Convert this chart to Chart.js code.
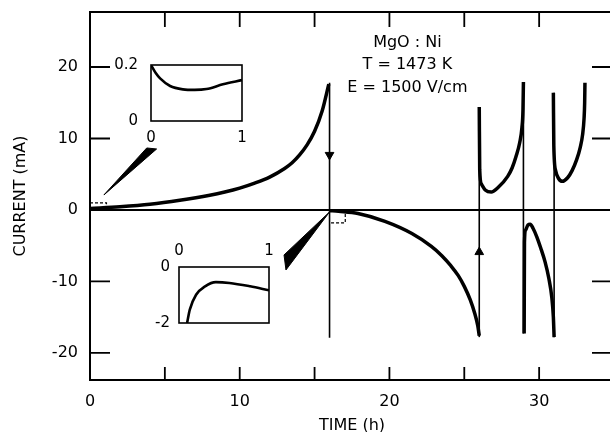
<!DOCTYPE html>
<html>
<head>
<meta charset="utf-8">
<script src="https://cdn.jsdelivr.net/npm/chart.js@4.4.0/dist/chart.umd.min.js"></script>
<style>
    html, body { margin: 0; padding: 0; background: #fff; overflow: hidden; width: 610px; height: 432px; }
    #wrap { position: relative; width: 620px; height: 432px; }
    #wrap canvas { position: absolute; }
</style>
</head>
<body>
<div id="wrap">
    <canvas id="main" width="620" height="432" style="left:0;top:0"></canvas>
    <canvas id="inset1" width="160" height="100" style="left:100px;top:50px"></canvas>
    <canvas id="inset2" width="160" height="100" style="left:130px;top:235px"></canvas>
</div>
<script>
// Current under field reversal, MgO:Ni, T = 1473 K, E = 1500 V/cm
const growthT = [0, 2, 4, 6, 8, 9, 10, 11, 12, 13, 13.5, 14, 14.5, 15, 15.5, 15.95];
const growthI = [0.2, 0.45, 0.8, 1.35, 2.05, 2.5, 3.05, 3.75, 4.6, 5.8, 6.6, 7.7, 9.1, 11.0, 13.8, 17.6];

const decayT = [16.0, 16.6, 17.9, 19.7, 21.5, 22.8, 23.5, 24.1, 24.6, 25.0, 25.4, 25.7, 25.9, 26.0];
const decayI = [-0.1, -0.2, -0.5, -1.6, -3.3, -5.1, -6.4, -7.8, -9.2, -10.7, -12.6, -14.5, -16.2, -17.6];

const u1T = [26.0, 26.03, 26.15, 26.4, 26.8, 27.24, 27.9, 28.2, 28.46, 28.7, 28.85, 28.92, 28.95];
const u1I = [14.4, 5.6, 3.6, 2.8, 2.5, 3.1, 4.7, 5.9, 7.5, 9.4, 11.5, 14.0, 17.9];

const neg2T = [29.0, 29.02, 29.1, 29.25, 29.4, 29.6, 29.85, 30.1, 30.4, 30.65, 30.85, 30.95, 31.0];
const neg2I = [-17.3, -4.5, -2.8, -2.1, -2.0, -2.6, -3.8, -5.3, -7.3, -9.6, -12.3, -15.0, -17.8];

const u2T = [30.95, 30.98, 31.1, 31.3, 31.55, 31.9, 32.2, 32.5, 32.75, 32.9, 33.0, 33.04, 33.06];
const u2I = [16.4, 9.0, 5.5, 4.4, 4.0, 4.5, 5.5, 7.0, 8.8, 10.5, 12.8, 15.0, 17.8];

// polarity switches (thin vertical jumps)
const switchT = [16, 26, 28.95, 31];
const switchFrom = [17.8, -17.8, 17.9, -17.8];
const switchTo = [-17.9, 14.4, -17.3, 16.4];

// arrow heads on the jumps
const arrowT = [16, 26];
const arrowI = [7.7, -5.9];
const arrowRot = [180, 0];

// zoomed regions and the pointers to the insets
const box1T = [0, 1.1, 1.1];
const box1I = [1.0, 1.0, 0.1];
const box2T = [16.1, 17.05, 17.05];
const box2I = [-1.8, -1.8, -0.2];
const wedge1T = [0.93, 3.79, 4.45, 0.93];
const wedge1I = [2.1, 8.67, 8.53, 2.1];
const wedge2T = [12.96, 13.09, 16.0, 12.96];
const wedge2I = [-6.3, -8.4, -0.28, -6.3];

// insets: first hour after switching
const inset1T = [0, 0.05, 0.1, 0.21, 0.35, 0.48, 0.61, 0.79, 1.0];
const inset1I = [0.2, 0.172, 0.152, 0.125, 0.113, 0.111, 0.114, 0.131, 0.146];
const inset2T = [0.09, 0.12, 0.19, 0.29, 0.41, 0.56, 0.79, 1.0];
const inset2I = [-2, -1.52, -0.99, -0.69, -0.54, -0.57, -0.69, -0.83];

const xTicks = [0, 10, 20, 30];
const noteLines = ['MgO : Ni', 'T = 1473 K', 'E = 1500 V/cm'];

const toPts = (xs, ys) => xs.map((x, i) => ({ x: x, y: ys[i] }));

Chart.defaults.font.family = 'DejaVu Sans';
Chart.defaults.color = '#000';
Chart.defaults.animation = false;
Chart.defaults.events = [];
Chart.defaults.plugins.legend.display = false;
Chart.defaults.plugins.tooltip.enabled = false;

function curve(xs, ys, w) {
    return {
        data: toPts(xs, ys), showLine: true, borderColor: '#000', borderWidth: w,
        pointRadius: 0, cubicInterpolationMode: 'monotone', fill: false
    };
}

// stop chart.js from reserving room for end labels
function noPad(s) {
    s.paddingTop = 0; s.paddingBottom = 0; s.paddingLeft = 0; s.paddingRight = 0;
}

const datasets = [
    { data: [{ x: 0, y: 0 }, { x: 35, y: 0 }], showLine: true, borderColor: '#000', borderWidth: 2, pointRadius: 0 },
    curve(growthT, growthI, 3.5),
    curve(decayT, decayI, 3.5),
    curve(u1T, u1I, 3.5),
    curve(neg2T, neg2I, 3.5),
    curve(u2T, u2I, 3.5)
];
switchT.forEach((t, i) => {
    datasets.push({
        data: [{ x: t, y: switchFrom[i] }, { x: t, y: switchTo[i] }],
        showLine: true, borderColor: '#000', borderWidth: 1.6, pointRadius: 0
    });
});
datasets.push({
    data: toPts(arrowT, arrowI), showLine: false, pointStyle: 'triangle',
    rotation: arrowRot, pointRadius: 5, backgroundColor: '#000', borderColor: '#000', borderWidth: 1
});
[[box1T, box1I], [box2T, box2I]].forEach(b => {
    datasets.push({
        data: toPts(b[0], b[1]), showLine: true, borderColor: '#000', borderWidth: 1.2,
        borderDash: [3, 2], pointRadius: 0
    });
});
[[wedge1T, wedge1I], [wedge2T, wedge2I]].forEach(w => {
    datasets.push({
        data: toPts(w[0], w[1]), showLine: true, borderColor: '#000', borderWidth: 1,
        backgroundColor: '#000', fill: 'shape', pointRadius: 0
    });
});

// frame with inward ticks on all four sides, plus the sample note
const frameTicks = {
    id: 'frameTicks',
    afterDraw(chart, args, opts) {
        const ctx = chart.ctx;
        const a = chart.chartArea;
        const xs = chart.scales.x, ys = chart.scales.y;
        ctx.save();
        ctx.strokeStyle = '#000';
        ctx.lineWidth = opts.frameWidth;
        ctx.strokeRect(a.left, a.top, a.right - a.left, a.bottom - a.top);
        ctx.lineWidth = opts.tickWidth;
        ctx.beginPath();
        if (opts.xIn) {
            xs.ticks.forEach(t => {
                if (t.value <= xs.min || t.value >= xs.max) return;
                const px = xs.getPixelForValue(t.value);
                ctx.moveTo(px, a.top); ctx.lineTo(px, a.top + opts.xIn[0]);
                ctx.moveTo(px, a.bottom); ctx.lineTo(px, a.bottom - opts.xIn[1]);
            });
        }
        if (opts.yIn) {
            ys.ticks.forEach(t => {
                if (t.value === 0 || t.value <= ys.min || t.value >= ys.max) return;
                const py = ys.getPixelForValue(t.value);
                ctx.moveTo(a.left, py); ctx.lineTo(a.left + opts.yIn[0], py);
                ctx.moveTo(a.right, py); ctx.lineTo(a.right - opts.yIn[1], py);
            });
        }
        ctx.stroke();
        if (opts.note) {
            ctx.fillStyle = '#000';
            ctx.font = '16px "DejaVu Sans"';
            ctx.textAlign = 'center';
            ctx.textBaseline = 'middle';
            const cx = xs.getPixelForValue(21.2);
            [23.4, 20.3, 17.1].forEach((v, i) => {
                ctx.fillText(opts.note[i], cx, ys.getPixelForValue(v));
            });
        }
        ctx.restore();
    }
};

new Chart(document.getElementById('main'), {
    type: 'scatter',
    data: { datasets: datasets },
    options: {
        responsive: false,
        layout: { padding: { top: 12, right: 3, left: 0, bottom: 0 } },
        scales: {
            x: {
                type: 'linear', min: 0, max: 35,
                grid: { display: false, drawTicks: false },
                border: { display: false },
                ticks: {
                    stepSize: 5, includeBounds: false, padding: 12, font: { size: 16 }, maxRotation: 0,
                    autoSkip: false,
                    callback: v => xTicks.includes(v) ? String(v) : ''
                },
                title: { display: true, text: 'TIME (h)', font: { size: 16, lineHeight: 1 }, padding: { top: 0, bottom: -2 } },
                afterFit: s => { s.height = 52; noPad(s); }
            },
            y: {
                type: 'linear', min: -23.8, max: 27.7,
                grid: { display: false, drawTicks: false },
                border: { display: false },
                ticks: { stepSize: 10, includeBounds: false, padding: 12, font: { size: 16 } },
                title: { display: true, text: 'CURRENT (mA)', font: { size: 16, lineHeight: 1.2 }, padding: { top: 11, bottom: 0 } },
                afterFit: s => { s.width = 90; noPad(s); }
            }
        },
        plugins: {
            frameTicks: { frameWidth: 2, tickWidth: 1.8, xIn: [15, 13], yIn: [20, 22], note: noteLines }
        }
    },
    plugins: [frameTicks]
});

// small inset charts
function inset(id, xs, ys, yMin, yMax, xPos, sizes, pad) {
    new Chart(document.getElementById(id), {
        type: 'scatter',
        data: { datasets: [curve(xs, ys, 2.6)] },
        options: {
            responsive: false,
            layout: { padding: pad },
            scales: {
                x: {
                    type: 'linear', min: 0, max: 1, position: xPos,
                    grid: { display: false, drawTicks: false }, border: { display: false },
                    ticks: { stepSize: 1, padding: sizes.xPad, font: { size: 15 }, maxRotation: 0, autoSkip: false },
                    afterFit: s => { s.height = sizes.h; noPad(s); }
                },
                y: {
                    type: 'linear', min: yMin, max: yMax,
                    grid: { display: false, drawTicks: false }, border: { display: false },
                    ticks: { stepSize: yMax - yMin, padding: sizes.yPad, font: { size: 15 }, autoSkip: false },
                    afterFit: s => { s.width = sizes.w; noPad(s); }
                }
            },
            plugins: { frameTicks: { frameWidth: 1.6, tickWidth: 1 } }
        },
        plugins: [frameTicks]
    });
}

inset('inset1', inset1T, inset1I, 0, 0.2, 'bottom', { w: 51, h: 29, xPad: 8, yPad: 13 }, { top: 15, right: 18, left: 0, bottom: 0 });
inset('inset2', inset2T, inset2I, -2, 0, 'top', { w: 49, h: 32, xPad: 7, yPad: 9 }, { top: 0, right: 21, left: 0, bottom: 12 });
</script>
</body>
</html>
